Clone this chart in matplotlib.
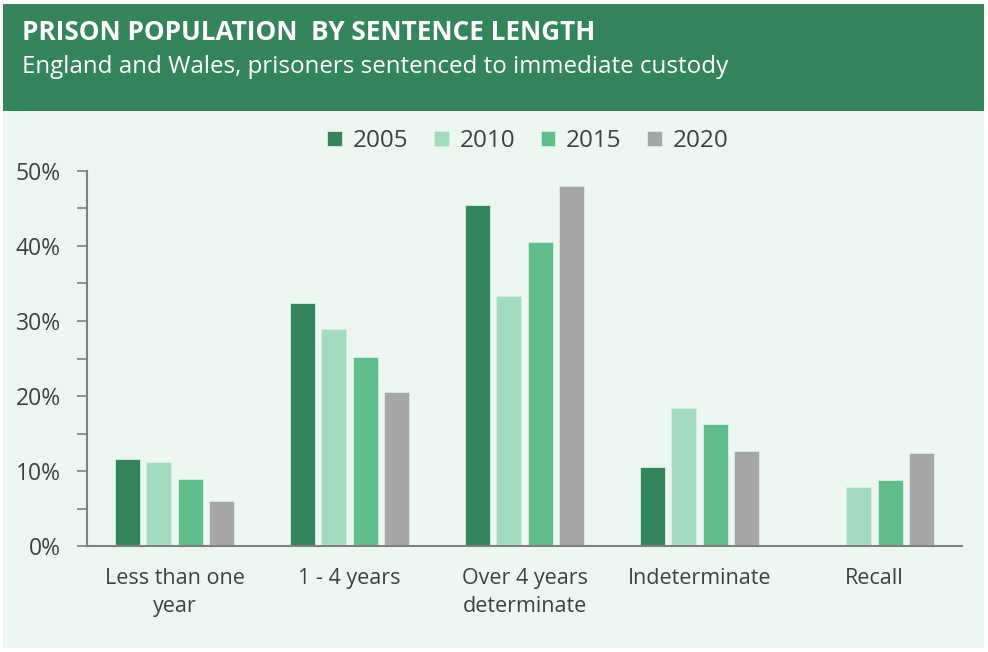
import matplotlib
matplotlib.use("Agg")
import matplotlib.pyplot as plt
from matplotlib.patches import Rectangle
from matplotlib.ticker import MultipleLocator, PercentFormatter
import numpy as np

categories = ["Less than one\nyear", "1 - 4 years", "Over 4 years\ndeterminate", "Indeterminate", "Recall"]
years = ["2005", "2010", "2015", "2020"]
share_2005 = [11.6, 32.4, 45.5, 10.5, 0.0]
share_2010 = [11.2, 28.9, 33.3, 18.4, 7.9]
share_2015 = [8.9, 25.2, 40.5, 16.3, 8.8]
share_2020 = [6.0, 20.5, 48.0, 12.7, 12.4]
series = [share_2005, share_2010, share_2015, share_2020]
colors = ["#35855C", "#A3DBBF", "#5FBE8C", "#A6A6A6"]

plt.rcParams['font.family'] = ['Open Sans', 'DejaVu Sans']

W, H = 988, 652
fig = plt.figure(figsize=(W / 100, H / 100), dpi=100)
fig.patch.set_facecolor("white")

# background panels
fig.add_artist(Rectangle((3 / W, 4 / H), 981 / W, (H - 112) / H, transform=fig.transFigure,
                         facecolor="#EDF7F1", edgecolor="none", zorder=0))
fig.add_artist(Rectangle((3 / W, (H - 111) / H), 981 / W, 107 / H, transform=fig.transFigure,
                         facecolor="#35855C", edgecolor="none", zorder=0))
fig.text(22 / W, (H - 32) / H, "PRISON POPULATION  BY SENTENCE LENGTH", color="white",
         fontsize=18.8, fontweight="bold", va="center", ha="left")
fig.text(22 / W, (H - 67) / H, "England and Wales, prisoners sentenced to immediate custody",
         color="white", fontsize=17.4, va="center", ha="left")

ax = fig.add_axes([87 / W, (H - 546) / H, 875 / W, 375 / H])
ax.set_facecolor("none")

x = np.arange(len(categories)) + 0.5
width = 0.145
pitch = 0.18
for i, (vals, col, yr) in enumerate(zip(series, colors, years)):
    offs = (i - 1.5) * pitch
    ax.bar(x + offs, vals, width, color=col, label=yr, edgecolor="#D8EEE2", linewidth=0.6, zorder=2)

ax.set_xlim(0, 5)
ax.set_ylim(0, 50)
ax.yaxis.set_major_locator(MultipleLocator(10))
ax.yaxis.set_minor_locator(MultipleLocator(5))
ax.yaxis.set_major_formatter(PercentFormatter(decimals=0))
ax.set_xticks(x)
ax.set_xticklabels(categories, linespacing=1.4)
ax.tick_params(axis="x", length=0, pad=16, labelsize=15.5, labelcolor="#404040")
ax.tick_params(axis="y", which="both", length=7, color="#808080", width=1.2, labelsize=16.5,
               labelcolor="#404040", pad=12)
for s in ["top", "right"]:
    ax.spines[s].set_visible(False)
for s in ["left", "bottom"]:
    ax.spines[s].set_color("#808080")
    ax.spines[s].set_linewidth(1.5)

leg = fig.legend(loc="center", bbox_to_anchor=(528 / W, (H - 141) / H), ncol=4, frameon=False,
                 fontsize=17.5, handlelength=0.6, handleheight=0.6, handletextpad=0.45,
                 columnspacing=1.05, labelcolor="#404040")

fig.savefig("out.png", dpi=100, facecolor=fig.get_facecolor())
